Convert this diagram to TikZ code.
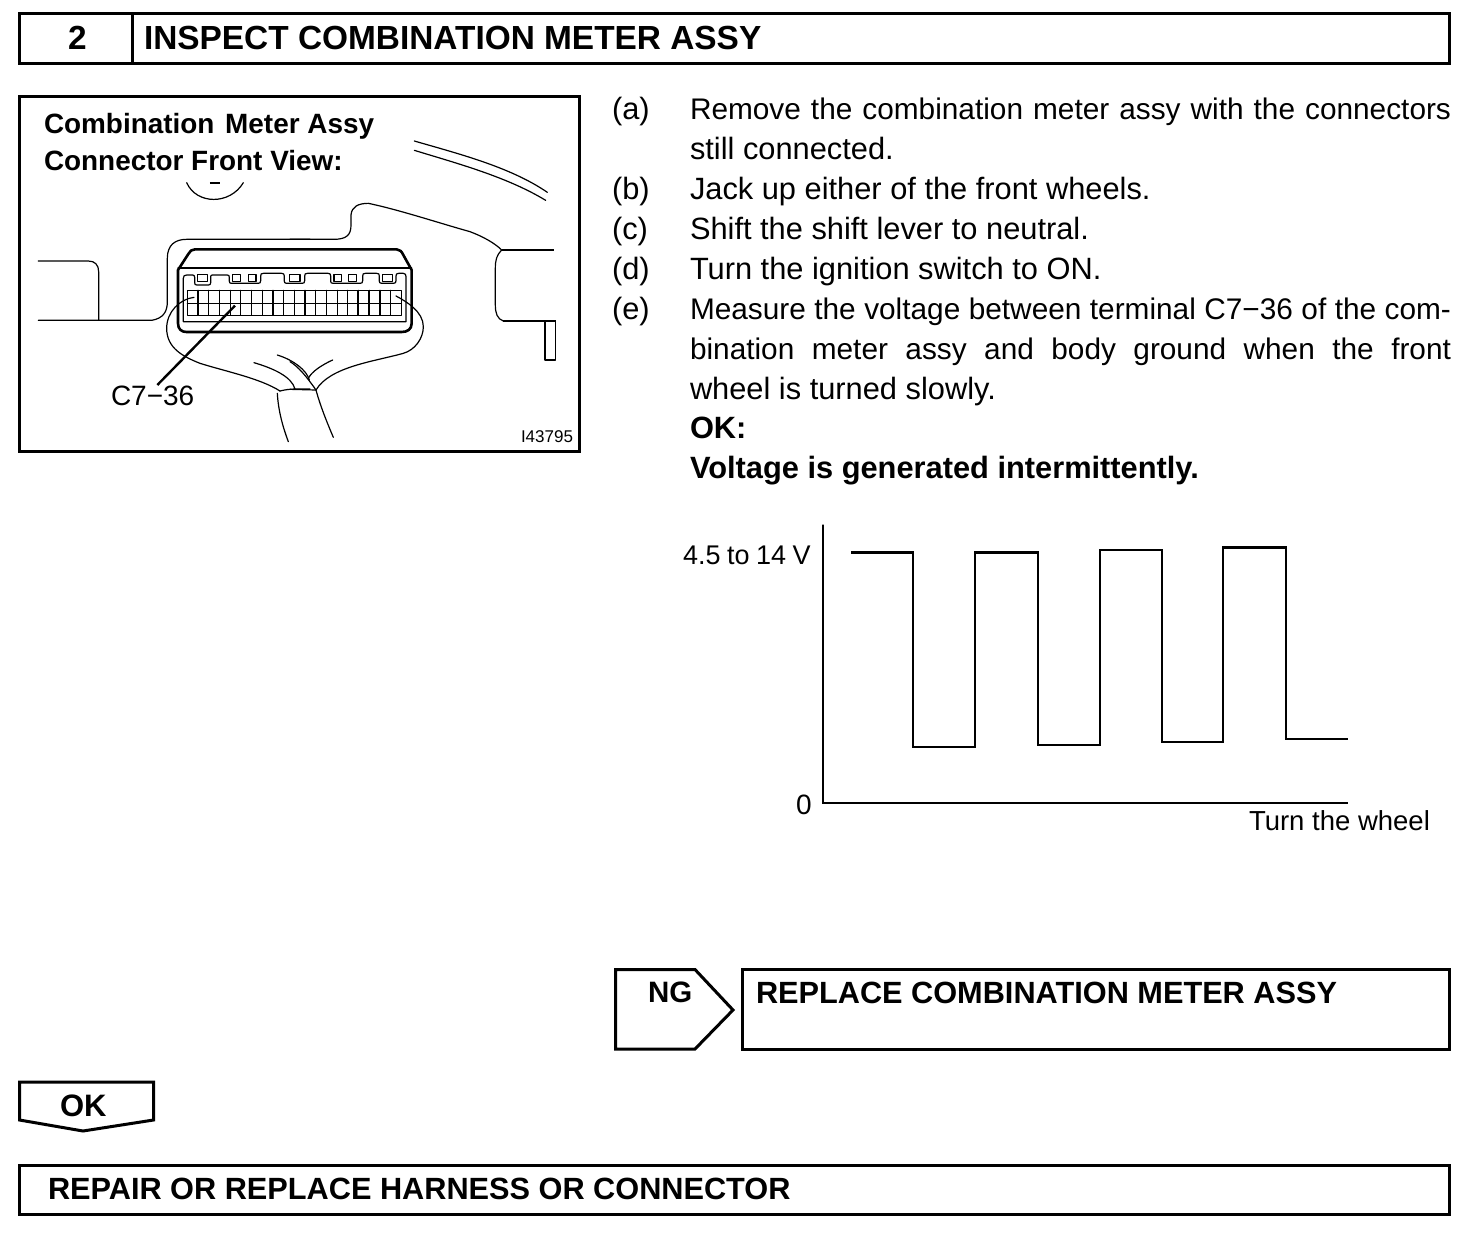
\documentclass[tikz,border=0pt]{standalone}
\usepackage{fontspec}
\setmainfont{Liberation Sans}
\newcommand{\fs}[1]{\fontsize{#1}{#1}\selectfont}
\newcommand{\jl}[1]{\makebox[761pt][s]{#1}}
\tikzset{
  frameln/.style={draw=black,line width=3pt,line join=miter},
  thinln/.style={draw=black,line width=1.2pt,line cap=round,line join=round},
  medln/.style={draw=black,line width=2.2pt,line join=miter},
  txt/.style={anchor=base west,inner sep=0pt,outer sep=0pt,text=black},
  body/.style={txt,font=\fs{30.8}},
  bodyj/.style={txt,font=\fs{29.8}},
  head/.style={txt,font=\fs{33.4}\bfseries},
  boldb/.style={txt,font=\fs{30.8}\bfseries},
  lab/.style={txt,font=\fs{28}},
  zone/.style={x=0.33333pt,y=-0.33333pt}
}
\begin{document}
\begin{tikzpicture}[x=1pt,y=-1pt]
\useasboundingbox (0,0) rectangle (1472,1232);
\fill[white] (0,0) rectangle (1472,1232);
% header
\draw[frameln] (19.5,13) rectangle (1449.5,63);
\draw[frameln] (132,13) -- (132,63);
\node[head] (num) at (68,49) {2};
\node[head] (title) at (144,49) {INSPECT COMBINATION METER ASSY};
% illustration frame
\draw[frameln] (19.5,96) rectangle (579.5,451);
\node[txt,font=\fs{27.9}\bfseries] (cap1) at (44,133) {Combination\hspace{3pt} Meter Assy};
\node[txt,font=\fs{27.9}\bfseries] (cap2) at (44,170) {Connector Front View:};
\node[lab] (c736) at (111,405.5) {C7−36};
\node[txt,font=\fs{17}] (code) at (521,442) {I43795};
% left part of the illustration
\begin{scope}[shift={(20pt,-95pt)},zone]
\draw[thinln] (500,263) .. controls (530,330) and (630,330) .. (670,263);
\draw[medln] (570,264) -- (600,264);
\draw[thinln] (55,498) -- (205,498) .. controls (225,498) and (236,510) .. (236,530) -- (236,676);
\draw[thinln] (55,676) -- (395,676) .. controls (430,670) and (442,650) .. (442,620) -- (442,490) .. controls (442,450) and (465,433) .. (500,433) -- (870,433);
\draw[thinln] (522,607) .. controls (480,612) and (440,650) .. (440,700) .. controls (440,760) and (490,785) .. (540,805) .. controls (620,830) and (720,850) .. (780,888);
\draw[thinln] (702,803) .. controls (760,820) and (815,845) .. (825,882);
\draw[thinln] (772,780) .. controls (820,795) and (860,825) .. (868,855);
\draw[thinln] (780,888) .. controls (810,880) and (840,882) .. (870,882);
\draw[thinln] (772,895) .. controls (775,950) and (790,1000) .. (805,1040);
\draw[draw=black,line width=2.4pt] (645,632) -- (412,870);
\end{scope}
% right part of the illustration
\begin{scope}[shift={(290pt,-95pt)},zone]
\draw[thinln] (0,433) -- (130,433) .. controls (170,433) and (183,420) .. (183,390) -- (183,360) .. controls (185,335) and (205,325) .. (235,325) .. controls (330,345) and (450,385) .. (540,410) .. controls (580,425) and (615,445) .. (635,465);
\draw[medln] (635,465) -- (792,465);
\draw[thinln] (635,465) .. controls (620,480) and (616,495) .. (616,520) -- (616,630) .. controls (616,655) and (622,672) .. (640,678);
\draw[medln] (640,678) -- (797,678);
\draw[thinln] (765,680) -- (765,795) -- (797,795) -- (797,678);
\draw[thinln] (373,138) .. controls (500,175) and (660,215) .. (772,292);
\draw[thinln] (373,166) .. controls (500,205) and (650,245) .. (767,316);
\draw[thinln] (318,603) .. controls (350,620) and (400,650) .. (400,695) .. controls (400,730) and (375,765) .. (340,775) .. controls (250,800) and (120,815) .. (78,885);
\draw[thinln] (0,800) .. controls (25,815) and (50,845) .. (78,885);
\draw[thinln] (128,795) .. controls (95,810) and (65,830) .. (55,850);
\draw[thinln] (0,883) -- (78,885) .. controls (90,930) and (110,980) .. (130,1027);
\end{scope}
% connector
\begin{scope}[shift={(170pt,-240pt)},zone]
\draw[draw=black,line width=2.6pt,line join=round] (75,28) -- (680,28) .. controls (690,28) and (695,35) .. (700,45) -- (725,90) -- (725,250) .. controls (725,268) and (712,276) .. (695,276) -- (50,276) .. controls (35,276) and (24,268) .. (24,250) -- (24,90) -- (55,42) .. controls (60,33) and (65,28) .. (75,28) -- cycle;
\draw[thinln] (24,84) -- (725,84);
\draw[thinln] (50,105) -- (68,105) .. controls (72,105) and (74,108) .. (74,112) -- (74,128) .. controls (74,133) and (76,135) .. (80,135) -- (115,135) .. controls (120,135) and (122,133) .. (122,128) -- (122,110) .. controls (122,106) and (124,105) .. (128,105) -- (172,105) .. controls (176,105) and (178,107) .. (178,112) -- (178,124) .. controls (178,128) and (180,130) .. (184,130) -- (264,130) .. controls (270,130) and (272,128) .. (272,122) -- (272,108) .. controls (272,102) and (274,100) .. (280,100) -- (335,100) .. controls (340,100) and (343,102) .. (343,108) -- (343,124) .. controls (343,128) and (345,130) .. (350,130) -- (396,130) .. controls (402,130) and (404,128) .. (404,122) -- (404,108) .. controls (404,102) and (406,100) .. (412,100) -- (474,100) .. controls (480,100) and (482,102) .. (482,108) -- (482,124) .. controls (482,128) and (484,130) .. (490,130) -- (570,130) .. controls (576,130) and (578,128) .. (578,122) -- (578,108) .. controls (578,102) and (580,100) .. (586,100) -- (620,100) .. controls (626,100) and (628,102) .. (628,108) -- (628,124) .. controls (628,128) and (630,130) .. (636,130) -- (670,130) .. controls (676,130) and (678,128) .. (678,122) -- (678,108) .. controls (678,102) and (680,100) .. (686,100) -- (700,100) .. controls (706,100) and (708,104) .. (708,110) -- (708,240) -- (708,245) -- (40,245) -- (40,115) .. controls (40,108) and (43,105) .. (50,105) -- cycle;
\foreach \a/\b in {83/112,188/212,235/258,358/390,492/515,535/560,637/667}{\draw[thinln] (\a,103) rectangle (\b,124);}
\draw[thinln] (52,151) rectangle (694,226);
\draw[thinln] (52,190) -- (694,190);
\foreach \c in {1,...,19}{\draw[thinln] ({52+32.1*\c},151) -- ({52+32.1*\c},226);}
\draw[draw=black,line width=2.2pt] (565,151) -- (565,226) (598,151) -- (598,226);
\end{scope}
% instructions
\node[body] (la) at (612,119) {(a)};
\node[bodyj] (ta) at (690,119) {\jl{Remove the combination meter assy with the connectors}};
\node[body] (ta2) at (690,159) {still connected.};
\node[body] (lb) at (612,199) {(b)};
\node[body] (tb) at (690,199) {Jack up either of the front wheels.};
\node[body] (lc) at (612,239) {(c)};
\node[body] (tc) at (690,239) {Shift the shift lever to neutral.};
\node[body] (ld) at (612,279) {(d)};
\node[body] (td) at (690,279) {Turn the ignition switch to ON.};
\node[body] (le) at (612,319) {(e)};
\node[bodyj] (te) at (690,319) {\jl{Measure the voltage between terminal C7−36 of the com-}};
\node[bodyj] (te2) at (690,359) {\jl{bination meter assy and body ground when the front}};
\node[body] (te3) at (690,399) {wheel is turned slowly.};
\node[boldb] (ok1) at (690,438) {OK:};
\node[boldb] (ok2) at (690,478.5) {Voltage is generated intermittently.};
% chart
\draw[thinln] (823,525) -- (823,803);
\draw[medln] (822,803) -- (1348,803);
\draw[medln] (851,552.5) -- (913,552.5) -- (913,747) -- (975,747) -- (975,552.5) -- (1038,552.5) -- (1038,745) -- (1100,745) -- (1100,550) -- (1162,550) -- (1162,742) -- (1223,742) -- (1223,547.5) -- (1286,547.5) -- (1286,739) -- (1348,739);
\node[txt,font=\fs{27}] (volt) at (683,564.5) {\spaceskip=0.24em 4.5 to 14 V};
\node[lab] (zero) at (796,814) {0};
\node[txt,font=\fs{27.5}] (turn) at (1249,830) {Turn the wheel};
% NG branch
\draw[frameln] (615.5,969.5) -- (695,969.5) -- (733,1010) -- (695,1049) -- (615.5,1049) -- cycle;
\node[txt,font=\fs{29.5}\bfseries] (ng) at (648,1002.5) {NG};
\draw[frameln] (742.5,969.5) rectangle (1449.5,1049);
\node[txt,font=\fs{30.7}\bfseries] (rep) at (756,1003) {REPLACE COMBINATION METER ASSY};
% OK branch
\draw[frameln] (19.5,1082) -- (153.5,1082) -- (153.5,1120) -- (83,1131) -- (19.5,1120) -- cycle;
\node[txt,font=\fs{31}\bfseries] (okb) at (60,1116.5) {OK};
\draw[frameln] (19.5,1165) rectangle (1449.5,1214);
\node[txt,font=\fs{30.7}\bfseries] (repair) at (48,1199.5) {REPAIR OR REPLACE HARNESS OR CONNECTOR};
\end{tikzpicture}
\end{document}
